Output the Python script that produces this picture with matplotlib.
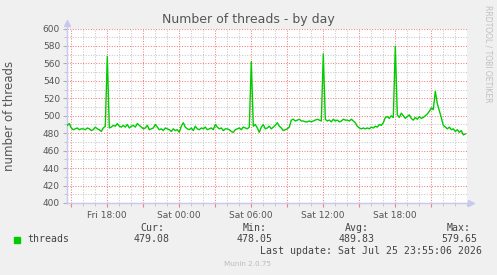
import matplotlib
matplotlib.use("Agg")
import matplotlib.pyplot as plt
import numpy as np
from matplotlib.patches import Rectangle
from matplotlib.ticker import MultipleLocator, FixedLocator

# ---------------- data ----------------
start_hour = 14.692          # first sample (hours since Fri 00:00)
step_hours = 10 / 60.0       # one sample every 10 minutes
threads = [
    489, 491, 486, 484, 485, 486, 484, 485, 485, 484, 486, 485, 483, 484, 487, 485, 484, 482, 486, 488,
    568, 486, 487, 489, 488, 491, 488, 487, 489, 487, 490, 486, 488, 489, 487, 491, 489, 487, 485, 486,
    489, 484, 485, 486, 490, 487, 484, 485, 483, 486, 485, 484, 482, 485, 483, 484, 481, 488, 492, 487,
    485, 484, 486, 483, 488, 485, 484, 486, 485, 487, 484, 485, 486, 484, 490, 487, 485, 486, 483, 485,
    485, 484, 482, 481, 484, 485, 486, 484, 487, 486, 485, 487, 562, 488, 490, 486, 481, 487, 490, 485,
    486, 488, 485, 487, 489, 492, 488, 486, 483, 484, 485, 487, 495, 496, 494, 495, 496, 494, 494, 493,
    493, 494, 493, 494, 495, 496, 495, 494, 571, 496, 494, 495, 493, 496, 494, 495, 493, 494, 496, 495,
    495, 494, 496, 494, 492, 488, 486, 485, 486, 485, 486, 485, 487, 486, 488, 487, 490, 489, 492, 498,
    499, 497, 500, 498, 579.65, 501, 498, 503, 500, 497, 499, 501, 497, 495, 498, 496, 499, 497, 498, 500,
    502, 505, 509, 507, 528, 514, 506, 498, 489, 487, 485, 487, 484, 485, 482, 484, 481, 483, 478.05, 479.08,
]
tick_hours = [18, 24, 30, 36, 42]
tick_labels = ["Fri 18:00", "Sat 00:00", "Sat 06:00", "Sat 12:00", "Sat 18:00"]
stat_names = ["Cur:", "Min:", "Avg:", "Max:"]
stat_values = ["479.08", "478.05", "489.83", "579.65"]
series_name = "threads"
title = "Number of threads - by day"
ylabel = "number of threads"
last_update = "Last update: Sat Jul 25 23:55:06 2026"
footer = "Munin 2.0.75"
side_text = "RRDTOOL / TOBI OETIKER"

# ---------------- figure ----------------
W, H = 497, 275
BG = "#f0f0f0"
TXT = "#555555"
fig = plt.figure(figsize=(W / 100, H / 100), dpi=100, facecolor=BG)

def fx(x):
    return x / W

def fy(y):
    return 1 - y / H

left, right, top, bottom = 67, 467, 28.5, 203
ax = fig.add_axes([fx(left), fy(bottom), (right - left) / W, (bottom - top) / H])
ax.set_facecolor("white")

t = start_hour + step_hours * np.arange(len(threads))
ax.set_xlim(14.6667, 48.0)
ax.set_ylim(400, 600)

# grid
ax.xaxis.set_major_locator(FixedLocator(np.arange(15, 48, 3)))
ax.xaxis.set_minor_locator(MultipleLocator(1))
ax.yaxis.set_major_locator(MultipleLocator(20))
ax.yaxis.set_minor_locator(MultipleLocator(10))
ax.grid(which="minor", color="#c8c8c8", lw=0.75, linestyle=(0, (1, 1.5)))
ax.grid(which="major", color="#f08080", lw=0.75, linestyle=(0, (1, 1.5)))
ax.set_axisbelow(True)

ax.plot(t, threads, color="#00cc00", lw=1.0, zorder=3)

# spines & arrows
for s in ["top", "right"]:
    ax.spines[s].set_visible(False)
AXC = "#c8c8f0"
ax.spines["left"].set_color(AXC)
ax.spines["bottom"].set_color(AXC)
ax.plot([0, 0], [0, 1.03], color=AXC, lw=1, transform=ax.transAxes, clip_on=False)
ax.plot([0, 1.01], [0, 0], color=AXC, lw=1, transform=ax.transAxes, clip_on=False)
ax.plot(0, 1.03, marker="^", ms=4, color=AXC, transform=ax.transAxes, clip_on=False)
ax.plot(1.01, 0, marker=">", ms=4, color=AXC, transform=ax.transAxes, clip_on=False)

# ticks
ax.tick_params(axis="x", which="major", length=3, width=0.8, color="#f08080",
               labelsize=6.5, labelcolor=TXT, pad=3)
ax.tick_params(axis="x", which="minor", length=2, width=0.6, color="#c0c0c0")
ax.tick_params(axis="y", which="major", length=3, width=0.8, color="#b0b0b0",
               labelsize=6.5, labelcolor=TXT, pad=2)
ax.tick_params(axis="y", which="minor", length=2, width=0.6, color="#c0c0c0")
ax.set_xticks(tick_hours, minor=False)
ax.set_xticklabels(tick_labels)
# red major grid lines every 3h, labels only every 6h
ax.xaxis.set_major_locator(FixedLocator(np.arange(15, 48, 3)))
ax.set_xticklabels(["" if h not in tick_hours else tick_labels[tick_hours.index(h)]
                    for h in np.arange(15, 48, 3)])
ax.set_yticks(np.arange(400, 601, 20))
ax.set_yticklabels([str(v) for v in range(400, 601, 20)])

# texts
fig.text(fx(248.5), fy(19), title, ha="center", va="center", fontsize=9, color=TXT)
fig.text(fx(10), fy(115.5), ylabel, ha="center", va="center", rotation=90,
         fontsize=8.5, color=TXT)
fig.text(fx(488), fy(5), side_text, ha="center", va="top", rotation=270,
         fontsize=5.5, color="#c0c0c0")

MONO = "DejaVu Sans Mono"
MC = "#444444"
fig.patches.append(Rectangle((fx(14), fy(243)), 6 / W, 6 / H, transform=fig.transFigure,
                             color="#00cc00", figure=fig))
fig.text(fx(27), fy(239.5), series_name, ha="left", va="center", family=MONO,
         fontsize=7.1, color=MC)
centers = [152, 255, 357, 459]
for c, n, v in zip(centers, stat_names, stat_values):
    fig.text(fx(c), fy(227.7), n, ha="center", va="center", family=MONO, fontsize=7.1, color=MC)
    fig.text(fx(c), fy(239.5), v, ha="center", va="center", family=MONO, fontsize=7.1, color=MC)
fig.text(fx(482), fy(251), last_update, ha="right", va="center", family=MONO,
         fontsize=7.1, color=MC)
fig.text(fx(248), fy(264), footer, ha="center", va="center", fontsize=5.2, color="#bbbbbb")

fig.savefig("out.png", dpi=100, facecolor=BG)
